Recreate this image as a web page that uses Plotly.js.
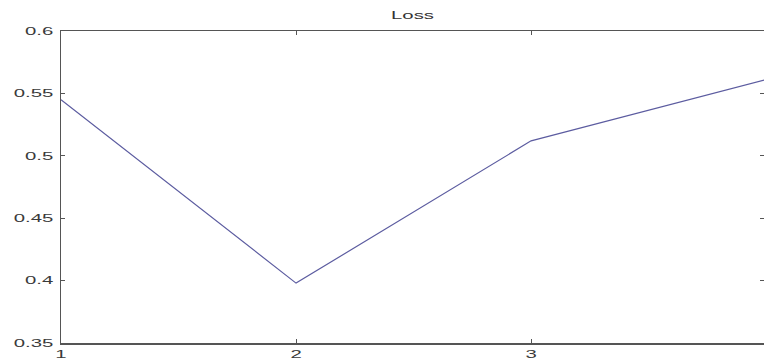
<!DOCTYPE html>
<html>
<head>
<meta charset="utf-8">
<script src="https://cdn.plot.ly/plotly-3.0.1.min.js"></script>
<style>
html,body{margin:0;padding:0;overflow:hidden;background:#fff;}
</style>
</head>
<body>
<div id="chart"></div>
<script>
const epochs = [1, 2, 3, 4];
const loss = [0.545, 0.398, 0.512, 0.561];
const xTicks = [1, 2, 3, 4];
const yTicks = [0.35, 0.4, 0.45, 0.5, 0.55, 0.6];
const yTickText = ['0.35', '0.4', '0.45', '0.5', '0.55', '0.6'];
const chartTitle = 'Loss';

const axisColor = '#555555';
const fontSpec = {family: 'Liberation Sans, Arial, sans-serif', size: 11, color: '#3a3a3a'};
const stretch = 1.85;

Plotly.newPlot('chart', [{
  x: epochs, y: loss, type: 'scatter', mode: 'lines',
  line: {color: '#5c5ca0', width: 1.2}, hoverinfo: 'skip'
}, {
  x: epochs, y: loss, type: 'scatter', mode: 'lines', yaxis: 'y2',
  line: {color: 'rgba(0,0,0,0)', width: 0}, hoverinfo: 'skip'
}], {
  width: 764, height: 360,
  margin: {l: 61, r: 0, t: 31, b: 17},
  paper_bgcolor: '#ffffff', plot_bgcolor: '#ffffff',
  showlegend: false,
  title: {text: chartTitle, font: {family: 'Liberation Sans, Arial, sans-serif', size: 11, color: '#333'},
          x: 0.5, xref: 'paper', y: 0.958, yref: 'container', yanchor: 'middle'},
  xaxis: {
    range: [1, 3.991], tickvals: xTicks, ticktext: xTicks.map(String),
    showgrid: false, zeroline: false, showline: true, linecolor: axisColor, linewidth: 1.5,
    mirror: 'all', ticks: 'inside', ticklen: 4, tickcolor: axisColor, tickfont: fontSpec
  },
  yaxis: {
    range: [0.35, 0.6], tickvals: yTicks, ticktext: yTickText,
    showgrid: false, zeroline: false, showline: true, linecolor: axisColor, linewidth: 1.5,
    mirror: false, ticks: 'inside', ticklen: 4, tickcolor: axisColor, tickfont: fontSpec,
    ticklabelstandoff: 4
  },
  yaxis2: {
    overlaying: 'y', side: 'right', range: [0.35, 0.6], tickvals: yTicks,
    showticklabels: false, showgrid: false, zeroline: false, showline: false,
    ticks: 'inside', ticklen: 4, tickcolor: axisColor
  }
}, {displayModeBar: false, staticPlot: true}).then(function (gd) {
  // widen glyphs horizontally, as in the (horizontally stretched) reference image
  gd.querySelectorAll('.xtick text, .ytick text, .gtitle').forEach(function (t) {
    const ax = parseFloat(t.getAttribute('x') || '0');
    const prev = t.getAttribute('transform') || '';
    t.setAttribute('transform', prev + ' translate(' + ax + ',0) scale(' + stretch + ',1) translate(' + (-ax) + ',0)');
  });
});
</script>
</body>
</html>
